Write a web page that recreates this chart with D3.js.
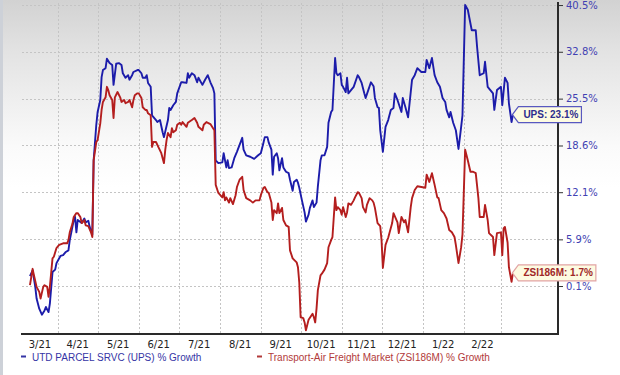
<!DOCTYPE html>
<html>
<head>
<meta charset="utf-8">
<script src="https://cdn.jsdelivr.net/npm/d3@7"></script>
<style>
  body { margin: 0; background: #fff; }
  svg { display: block; }
</style>
</head>
<body>
<div id="container"></div>
<script>
const width = 620;
const height = 375;
const plotLeft = 22;
const plotRight = 558;
const plotTop = 3;
const plotBottom = 334;

// chart data
const monthLabels = ["3/21", "4/21", "5/21", "6/21", "7/21", "8/21", "9/21", "10/21", "11/21", "12/21", "1/22", "2/22"];
const yTicks = [0.1, 5.9, 12.1, 18.6, 25.5, 32.8, 40.5];
const yExtent = [-5.53, 40.85];
const dateExtent = ["2021-03-05", "2022-04-13"];
const legendNames = ["UTD PARCEL SRVC (UPS) % Growth", "Transport-Air Freight Market (ZSI186M) % Growth"];
const endLabels = ["UPS: 23.1%", "ZSI186M: 1.7%"];

const upsGrowth = [
  ["2021-03-11",1.3],["2021-03-13",2.0],["2021-03-15",0.0],["2021-03-16",-1.4],["2021-03-18",-2.6],["2021-03-20",-3.3],
  ["2021-03-22",-2.8],["2021-03-23",-2.4],["2021-03-25",-3.0],["2021-03-26",-2.0],["2021-03-28",1.8],["2021-03-30",2.1],
  ["2021-03-31",2.9],["2021-04-03",3.8],["2021-04-05",3.9],["2021-04-07",4.3],["2021-04-09",4.5],["2021-04-10",5.8],
  ["2021-04-12",7.5],["2021-04-13",8.4],["2021-04-14",8.8],["2021-04-15",6.8],["2021-04-16",8.4],["2021-04-19",8.0],
  ["2021-04-21",8.6],["2021-04-22",8.1],["2021-04-24",8.3],["2021-04-25",7.5],["2021-04-27",6.5],["2021-04-28",16.5],
  ["2021-04-30",21.6],["2021-05-01",23.5],["2021-05-03",25.3],["2021-05-04",28.8],["2021-05-05",29.9],["2021-05-07",30.2],
  ["2021-05-08",31.7],["2021-05-10",31.0],["2021-05-12",30.7],["2021-05-13",27.6],["2021-05-15",30.9],["2021-05-17",31.0],
  ["2021-05-19",30.7],["2021-05-20",29.4],["2021-05-22",28.7],["2021-05-24",29.1],["2021-05-25",28.4],["2021-05-27",29.1],
  ["2021-05-28",29.6],["2021-05-31",29.9],["2021-06-01",29.9],["2021-06-03",29.4],["2021-06-04",28.7],["2021-06-06",28.7],
  ["2021-06-07",29.1],["2021-06-08",27.9],["2021-06-10",27.3],["2021-06-11",23.0],["2021-06-14",22.3],["2021-06-15",22.0],
  ["2021-06-17",22.3],["2021-06-19",20.5],["2021-06-20",19.8],["2021-06-23",22.3],["2021-06-24",24.1],["2021-06-25",23.8],
  ["2021-06-27",24.5],["2021-06-29",25.0],["2021-06-30",26.3],["2021-07-03",28.0],["2021-07-04",28.0],["2021-07-07",27.9],
  ["2021-07-08",29.4],["2021-07-09",28.7],["2021-07-11",29.4],["2021-07-13",29.1],["2021-07-15",28.0],["2021-07-16",28.7],
  ["2021-07-19",27.6],["2021-07-21",28.4],["2021-07-23",29.1],["2021-07-25",28.0],["2021-07-27",27.1],["2021-07-28",26.3],
  ["2021-07-29",16.5],["2021-07-31",16.1],["2021-08-03",16.2],["2021-08-04",17.5],["2021-08-06",15.5],["2021-08-07",16.5],
  ["2021-08-08",15.4],["2021-08-10",15.5],["2021-08-12",16.8],["2021-08-14",17.7],["2021-08-16",18.7],["2021-08-18",19.7],
  ["2021-08-19",18.0],["2021-08-21",17.2],["2021-08-24",17.0],["2021-08-27",16.7],["2021-08-30",17.2],["2021-09-01",17.5],
  ["2021-09-03",19.0],["2021-09-04",19.8],["2021-09-06",19.8],["2021-09-07",19.0],["2021-09-09",18.0],["2021-09-10",14.5],
  ["2021-09-11",17.0],["2021-09-13",17.5],["2021-09-14",16.8],["2021-09-15",15.1],["2021-09-17",16.8],["2021-09-18",15.5],
  ["2021-09-20",14.9],["2021-09-22",14.7],["2021-09-23",13.8],["2021-09-25",12.3],["2021-09-26",13.5],["2021-09-28",13.8],
  ["2021-09-29",13.4],["2021-09-30",12.7],["2021-10-02",11.0],["2021-10-04",9.4],["2021-10-05",8.2],["2021-10-07",9.1],
  ["2021-10-08",10.0],["2021-10-10",11.0],["2021-10-11",10.1],["2021-10-13",10.7],["2021-10-14",12.9],["2021-10-16",16.5],
  ["2021-10-17",17.2],["2021-10-19",17.2],["2021-10-21",18.4],["2021-10-22",21.9],["2021-10-24",23.5],["2021-10-25",23.8],
  ["2021-10-27",31.8],["2021-10-28",29.4],["2021-10-29",29.1],["2021-10-31",29.4],["2021-11-01",27.6],["2021-11-02",27.3],
  ["2021-11-04",26.5],["2021-11-05",28.7],["2021-11-06",26.3],["2021-11-08",26.8],["2021-11-10",27.3],["2021-11-13",29.1],
  ["2021-11-14",28.8],["2021-11-16",27.9],["2021-11-18",26.3],["2021-11-19",25.6],["2021-11-21",26.8],["2021-11-23",28.0],
  ["2021-11-25",27.4],["2021-11-26",25.6],["2021-11-28",24.2],["2021-11-29",24.1],["2021-11-30",20.8],["2021-12-02",17.7],
  ["2021-12-04",21.3],["2021-12-06",22.3],["2021-12-08",23.8],["2021-12-10",24.1],["2021-12-11",26.3],["2021-12-13",25.3],
  ["2021-12-16",23.5],["2021-12-17",25.6],["2021-12-19",24.2],["2021-12-21",22.7],["2021-12-24",28.4],["2021-12-26",29.1],
  ["2021-12-28",30.2],["2021-12-31",29.6],["2022-01-03",29.6],["2022-01-04",31.5],["2022-01-06",30.2],["2022-01-08",31.8],
  ["2022-01-10",29.1],["2022-01-12",28.0],["2022-01-14",27.3],["2022-01-16",25.6],["2022-01-18",25.0],["2022-01-19",23.8],
  ["2022-01-21",22.7],["2022-01-22",23.5],["2022-01-24",21.9],["2022-01-26",20.8],["2022-01-28",18.1],["2022-01-30",21.3],
  ["2022-01-31",23.0],["2022-02-02",40.5],["2022-02-04",39.7],["2022-02-07",36.3],["2022-02-10",36.3],["2022-02-11",33.6],
  ["2022-02-13",29.1],["2022-02-16",29.4],["2022-02-17",31.2],["2022-02-19",27.3],["2022-02-21",26.8],["2022-02-23",26.3],
  ["2022-02-24",23.8],["2022-02-26",26.8],["2022-03-01",27.3],["2022-03-02",24.5],["2022-03-04",28.7],["2022-03-06",27.9],
  ["2022-03-07",24.8],["2022-03-09",22.0],["2022-03-10",23.1]
];

const freightGrowth = [
  ["2021-03-11",0.2],["2021-03-13",2.2],["2021-03-14",1.4],["2021-03-16",0.0],["2021-03-18",-0.6],["2021-03-19",-1.4],
  ["2021-03-21",0.0],["2021-03-22",0.2],["2021-03-24",0.0],["2021-03-25",-1.2],["2021-03-26",0.0],["2021-03-28",3.5],
  ["2021-03-29",3.7],["2021-03-31",4.8],["2021-04-02",5.2],["2021-04-05",5.4],["2021-04-08",5.4],["2021-04-09",5.8],
  ["2021-04-10",6.8],["2021-04-12",7.9],["2021-04-13",8.8],["2021-04-15",9.3],["2021-04-16",9.3],["2021-04-18",8.8],
  ["2021-04-19",8.0],["2021-04-21",8.4],["2021-04-22",7.7],["2021-04-24",7.6],["2021-04-26",6.8],["2021-04-27",6.2],
  ["2021-04-28",16.5],["2021-04-30",19.1],["2021-05-01",19.4],["2021-05-03",21.8],["2021-05-04",23.8],["2021-05-05",25.0],
  ["2021-05-07",25.7],["2021-05-08",27.3],["2021-05-09",26.8],["2021-05-10",26.0],["2021-05-12",25.3],["2021-05-13",22.6],
  ["2021-05-14",25.7],["2021-05-16",26.5],["2021-05-18",25.7],["2021-05-19",25.0],["2021-05-21",25.3],["2021-05-22",24.8],
  ["2021-05-24",25.0],["2021-05-25",25.3],["2021-05-27",24.2],["2021-05-28",25.3],["2021-05-29",26.0],["2021-05-31",26.3],
  ["2021-06-01",26.3],["2021-06-03",25.6],["2021-06-04",24.2],["2021-06-06",23.8],["2021-06-07",23.8],["2021-06-08",23.3],
  ["2021-06-10",23.0],["2021-06-11",18.4],["2021-06-12",19.1],["2021-06-14",19.1],["2021-06-16",18.3],["2021-06-18",17.5],
  ["2021-06-20",16.1],["2021-06-21",18.0],["2021-06-22",19.4],["2021-06-23",20.4],["2021-06-25",19.8],["2021-06-26",21.1],
  ["2021-06-27",20.5],["2021-06-29",20.8],["2021-06-30",21.6],["2021-07-02",21.9],["2021-07-03",21.6],["2021-07-04",22.0],
  ["2021-07-07",21.3],["2021-07-08",21.9],["2021-07-11",22.3],["2021-07-13",22.6],["2021-07-15",21.9],["2021-07-16",21.3],
  ["2021-07-19",20.8],["2021-07-20",21.6],["2021-07-22",22.0],["2021-07-25",21.7],["2021-07-27",21.1],["2021-07-28",20.8],
  ["2021-07-29",13.1],["2021-07-31",12.0],["2021-08-03",11.4],["2021-08-04",12.1],["2021-08-05",11.0],["2021-08-06",11.4],
  ["2021-08-08",10.7],["2021-08-09",11.3],["2021-08-11",10.5],["2021-08-13",11.7],["2021-08-14",12.8],["2021-08-16",13.8],
  ["2021-08-18",14.2],["2021-08-19",12.4],["2021-08-21",11.3],["2021-08-24",11.0],["2021-08-26",10.7],["2021-08-28",11.0],
  ["2021-08-31",11.0],["2021-09-01",11.7],["2021-09-03",12.7],["2021-09-04",12.8],["2021-09-06",12.1],["2021-09-07",12.0],
  ["2021-09-09",10.7],["2021-09-10",8.4],["2021-09-11",9.7],["2021-09-13",9.3],["2021-09-14",10.6],["2021-09-15",9.3],
  ["2021-09-17",10.0],["2021-09-18",8.4],["2021-09-20",7.7],["2021-09-22",7.5],["2021-09-23",4.5],["2021-09-25",3.5],
  ["2021-09-28",3.0],["2021-09-29",2.4],["2021-09-30",0.5],["2021-10-01",-3.6],["2021-10-03",-3.7],["2021-10-04",-4.2],
  ["2021-10-05",-5.1],["2021-10-06",-4.5],["2021-10-07",-3.9],["2021-10-10",-3.2],["2021-10-11",-3.6],["2021-10-12",-4.2],
  ["2021-10-13",-2.6],["2021-10-14",-0.4],["2021-10-16",1.4],["2021-10-17",1.6],["2021-10-19",2.1],["2021-10-21",2.9],
  ["2021-10-22",4.9],["2021-10-24",5.8],["2021-10-25",6.2],["2021-10-27",11.4],["2021-10-28",9.7],["2021-10-29",10.1],
  ["2021-10-31",9.7],["2021-11-01",9.1],["2021-11-02",10.1],["2021-11-04",8.8],["2021-11-05",9.4],["2021-11-06",10.6],
  ["2021-11-08",10.4],["2021-11-10",11.0],["2021-11-11",11.4],["2021-11-13",12.1],["2021-11-14",12.0],["2021-11-16",11.3],
  ["2021-11-17",10.1],["2021-11-19",9.4],["2021-11-20",10.4],["2021-11-22",11.3],["2021-11-24",11.0],["2021-11-25",10.7],
  ["2021-11-26",10.0],["2021-11-28",8.0],["2021-11-30",7.6],["2021-12-01",5.8],["2021-12-02",2.3],["2021-12-04",5.2],
  ["2021-12-06",6.1],["2021-12-09",8.0],["2021-12-10",9.3],["2021-12-13",8.1],["2021-12-14",6.7],["2021-12-16",8.8],
  ["2021-12-18",8.1],["2021-12-19",8.4],["2021-12-21",6.8],["2021-12-23",10.1],["2021-12-24",11.3],["2021-12-26",12.4],
  ["2021-12-28",12.9],["2021-12-31",12.8],["2022-01-03",12.7],["2022-01-04",14.5],["2022-01-06",13.5],["2022-01-08",14.7],
  ["2022-01-10",13.1],["2022-01-12",11.4],["2022-01-13",11.3],["2022-01-15",9.7],["2022-01-17",9.3],["2022-01-19",8.6],
  ["2022-01-21",7.1],["2022-01-23",6.8],["2022-01-25",6.2],["2022-01-26",5.2],["2022-01-28",2.9],["2022-01-30",4.9],
  ["2022-01-31",6.5],["2022-02-02",18.0],["2022-02-04",16.5],["2022-02-06",14.9],["2022-02-08",14.9],["2022-02-10",14.7],
  ["2022-02-12",11.3],["2022-02-13",8.8],["2022-02-16",8.8],["2022-02-17",10.4],["2022-02-19",8.4],["2022-02-20",6.7],
  ["2022-02-23",6.2],["2022-02-24",3.9],["2022-02-26",6.7],["2022-03-01",6.8],["2022-03-02",3.9],["2022-03-03",7.3],
  ["2022-03-04",7.5],["2022-03-06",5.5],["2022-03-07",2.4],["2022-03-09",0.6],["2022-03-10",1.7]
];

const upsColor = "#1c1caa";
const freightColor = "#b41e1e";

const parseDate = d3.timeParse("%Y-%m-%d");
const growth = p => 1 + p / 100;

const xScale = d3.scaleTime()
  .domain(dateExtent.map(parseDate))
  .range([plotLeft, plotRight]);
const yScale = d3.scaleLog()
  .domain(yExtent.map(growth))
  .range([plotBottom, plotTop]);

const viz = d3.select("#container").append("svg").attr("width", width).attr("height", height);

// background fade
const grad = viz.append("defs").append("linearGradient").attr("id", "bg")
  .attr("x1", 0).attr("y1", 0).attr("x2", 0).attr("y2", 1);
[[0, "#d2d2d2"], [0.14, "#e3e3e3"], [0.27, "#efefef"], [0.39, "#fafafa"], [0.5, "#ffffff"]].forEach(s => {
  grad.append("stop").attr("offset", s[0]).attr("stop-color", s[1]);
});
viz.append("rect").attr("width", width).attr("height", height).attr("fill", "url(#bg)");
viz.append("rect").attr("width", 3).attr("height", height).attr("fill", "#cdd1d8");

buildGrid();
buildAxes();

const line = d3.line()
  .x(d => xScale(parseDate(d[0])))
  .y(d => yScale(growth(d[1])));

viz.append("path").datum(upsGrowth)
  .attr("d", line).attr("fill", "none")
  .attr("stroke", upsColor).attr("stroke-width", 1.9).attr("stroke-linejoin", "round");
viz.append("path").datum(freightGrowth)
  .attr("d", line).attr("fill", "none")
  .attr("stroke", freightColor).attr("stroke-width", 1.9).attr("stroke-linejoin", "round");

addEndLabel(upsGrowth, endLabels[0], "#5858c0", "#2e2e8e");
addEndLabel(freightGrowth, endLabels[1], "#e2a4a4", "#a02828");

// legend
const legend = viz.append("g").attr("font-family", "'Liberation Sans', Arial, sans-serif").attr("font-size", 10);
[[21, legendNames[0], "#3535a5"], [257, legendNames[1], "#b23a3a"]].forEach(l => {
  legend.append("rect").attr("x", l[0]).attr("y", 355.5).attr("width", 5).attr("height", 2).attr("fill", l[2]);
  legend.append("text").attr("x", l[0] + 11).attr("y", 360.5).attr("fill", l[2]).text(l[1]);
});


function buildGrid() {
  const grid = viz.append("g")
    .attr("stroke", "#c4c4c4").attr("stroke-dasharray", "2,2").attr("stroke-width", 1);
  grid.selectAll(".hgrid").data(yTicks).enter().append("line").attr("class", "hgrid")
    .attr("x1", plotLeft).attr("x2", plotRight)
    .attr("y1", d => Math.round(yScale(growth(d))) + 0.5)
    .attr("y2", d => Math.round(yScale(growth(d))) + 0.5);
  const monthStarts = d3.timeMonth.range(parseDate("2021-04-01"), parseDate("2022-03-02"));
  grid.selectAll(".vgrid").data(monthStarts).enter().append("line").attr("class", "vgrid")
    .attr("x1", d => Math.round(xScale(d)) + 0.5).attr("x2", d => Math.round(xScale(d)) + 0.5)
    .attr("y1", plotTop).attr("y2", plotBottom);
}

function buildAxes() {
  const yAxis = d3.axisRight(yScale)
    .tickValues(yTicks.map(growth))
    .tickFormat(d => d3.format(".1f")((d - 1) * 100) + "%")
    .tickSize(5).tickPadding(3);
  const yAxisGroup = viz.append("g").attr("transform", `translate(${plotRight}, 0)`).call(yAxis);
  yAxisGroup.select(".domain").remove();
  yAxisGroup.selectAll(".tick line").attr("stroke", "#333");
  yAxisGroup.selectAll(".tick text")
    .attr("fill", "#4141b2").attr("font-family", "'DejaVu Sans', Verdana, sans-serif").attr("font-size", 10);

  // month names sit in the middle of each month
  const months = d3.timeMonth.range(parseDate("2021-03-01"), parseDate("2022-03-01"));
  const x0 = xScale.domain()[0];
  viz.append("g").selectAll("text").data(months).enter().append("text")
    .attr("x", (d, i) => (xScale(d < x0 ? x0 : d) + xScale(d3.timeMonth.offset(d, 1))) / 2)
    .attr("y", 347.5)
    .attr("text-anchor", "middle")
    .attr("font-family", "'DejaVu Sans', Verdana, sans-serif").attr("font-size", 10)
    .attr("fill", "#222")
    .text((d, i) => monthLabels[i]);

  viz.append("line").attr("x1", plotRight).attr("x2", plotRight).attr("y1", plotTop - 1).attr("y2", plotBottom + 1)
    .attr("stroke", "#2a2a2a").attr("stroke-width", 2);
  viz.append("line").attr("x1", plotLeft - 1).attr("x2", plotRight + 1).attr("y1", plotBottom).attr("y2", plotBottom)
    .attr("stroke", "#2a2a2a").attr("stroke-width", 2);
}

function addEndLabel(series, label, border, textColor) {
  const last = series[series.length - 1];
  const tx = xScale(parseDate(last[0])) - 0.5;
  const ty = yScale(growth(last[1]));
  const g = viz.append("g");
  const shape = g.append("path").attr("fill", "#fdfbe1").attr("stroke", border).attr("stroke-width", 1.2);
  const txt = g.append("text").attr("x", tx + 11).attr("y", ty + 3.5)
    .attr("font-family", "'Liberation Sans', Arial, sans-serif").attr("font-size", 10).attr("font-weight", "bold")
    .attr("fill", textColor).text(label);
  const w = txt.node().getComputedTextLength();
  const left = tx + 6, right = tx + 14 + w, top = ty - 8, bottom = ty + 8;
  shape.attr("d", `M${tx},${ty}L${left},${top}H${right}V${bottom}H${left}Z`);
}
</script>
</body>
</html>
